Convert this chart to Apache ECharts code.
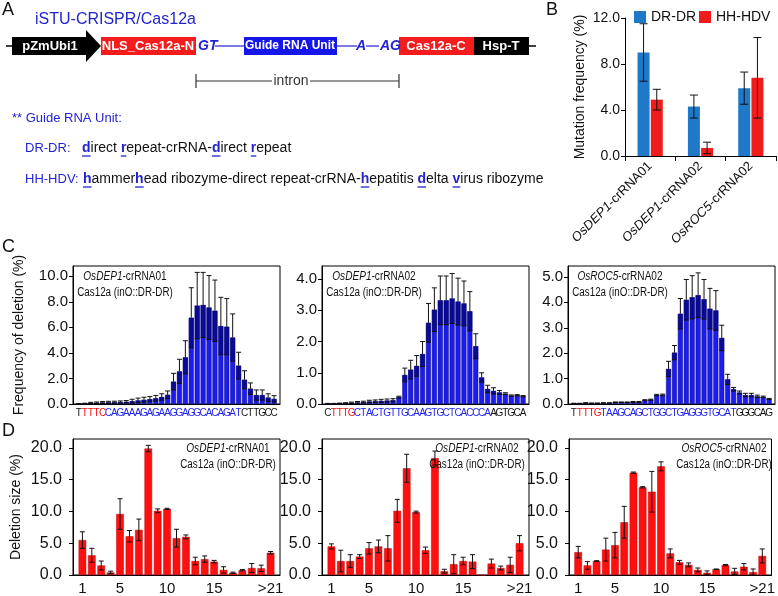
<!DOCTYPE html>
<html><head><meta charset="utf-8">
<script src="https://cdn.jsdelivr.net/npm/echarts@6/dist/echarts.min.js"></script>
<style>html,body{margin:0;padding:0;background:#fff}#c{width:778px;height:596px}</style>
</head><body><div id="c"></div>
<script>
// ---------------- DATA ----------------
// Panel B
const bCategories = ['OsDEP1-crRNA01', 'OsDEP1-crRNA02', 'OsROC5-crRNA02'];
const bSeriesNames = ['DR-DR', 'HH-HDV'];
const bDrDr = [9.0, 4.3, 5.9];
const bDrDrErr = [2.5, 1.0, 1.4];
const bHhHdv = [4.9, 0.7, 6.8];
const bHhHdvErr = [0.9, 0.5, 3.5];
const bTicks = [0, 4, 8, 12];

// Panel C (deletion frequency per position)
const c1Seq = 'TTTTCCAGAAAGAGAAGGAGGCACAGATCTTGCC'.split('');
const c2Seq = 'CTTTGCTACTGTTGCAAGTGCTCACCCAAGTGCA'.split('');
const c3Seq = 'TTTTGTAAGCAGCTGGCTGAGGGTGCATGGGCAG'.split('');
const c1Vals = [0.02,0.03,0.08,0.10,0.12,0.13,0.14,0.15,0.17,0.22,0.28,0.33,0.38,0.45,0.55,0.72,1.75,2.55,3.65,6.75,7.70,7.75,7.55,7.30,6.10,6.05,5.20,3.00,1.90,1.20,0.70,0.70,0.50,0.40];
const c1Err  = [0.02,0.03,0.05,0.06,0.07,0.08,0.08,0.09,0.10,0.15,0.18,0.20,0.20,0.22,0.25,0.30,0.65,0.95,1.30,2.35,2.60,2.55,2.50,2.40,2.25,2.20,1.85,1.05,0.70,0.45,0.40,0.40,0.30,0.25];
const c2Vals = [0.01,0.01,0.02,0.03,0.04,0.05,0.06,0.08,0.09,0.10,0.11,0.12,0.22,0.93,1.10,1.22,1.60,2.60,3.02,3.32,3.32,3.38,3.28,3.22,2.97,1.85,0.85,0.48,0.42,0.37,0.33,0.27,0.28,0.25];
const c2Err  = [0.01,0.01,0.01,0.01,0.02,0.03,0.03,0.04,0.04,0.05,0.05,0.05,0.03,0.22,0.30,0.33,0.40,0.62,0.70,0.78,0.78,0.80,0.75,0.72,0.63,0.40,0.15,0.12,0.10,0.06,0.03,0.02,0.02,0.02];
const c3Vals = [0.02,0.02,0.04,0.03,0.03,0.04,0.04,0.07,0.07,0.07,0.08,0.08,0.15,0.17,0.35,0.36,1.38,2.02,3.55,4.10,4.20,4.28,4.12,3.75,3.68,2.60,0.97,0.58,0.45,0.35,0.35,0.30,0.28,0.20];
const c3Err  = [0.01,0.01,0.01,0.01,0.01,0.01,0.01,0.01,0.01,0.01,0.02,0.02,0.02,0.02,0.03,0.03,0.30,0.28,0.60,0.80,0.85,0.88,0.78,0.80,0.78,0.50,0.20,0.07,0.06,0.07,0.07,0.05,0.03,0.02];
const c1Ticks = [0, 2, 4, 6, 8, 10];
const c2Ticks = [0, 1, 2, 3, 4];
const c3Ticks = [0, 1, 2, 3, 4, 5];
// sequence colour segments: [black, red (PAM), blue (protospacer), black]
const cSegments = [1, 4, 23, 6];

// Panel D (deletion size)
const dCategories = ['1','2','3','4','5','6','7','8','9','10','11','12','13','14','15','16','17','18','19','20','>21'];
const dShownLabels = ['1', '5', '10', '15', '>21'];
const d1Vals = [5.5,3.1,1.5,0.4,9.6,6.1,7.1,19.9,10.1,10.4,5.8,6.0,2.2,2.5,2.1,0.8,0.35,0.75,1.1,1.05,3.5];
const d1Err  = [1.3,1.1,0.7,0.2,2.4,0.9,1.7,0.5,0.3,0.1,1.4,0.3,0.6,0.5,0.2,0.5,0.1,0.1,0.7,0.5,0.2];
const d2Vals = [4.5,2.2,2.2,2.9,4.2,4.5,4.2,10.1,16.8,9.9,3.9,18.4,0.6,1.7,2.2,2.1,0,1.8,1.1,1.6,5.0];
const d2Err  = [0.4,1.7,1.0,0.3,0.9,1.0,2.0,1.8,2.2,0.15,0.5,1.1,0.3,1.5,0.6,1.1,0,0.7,0.3,1.2,1.2];
const d3Vals = [3.6,1.5,2.2,4.0,4.7,8.3,16.1,13.8,13.1,17.1,3.4,2.0,1.6,0.8,0.35,0.9,1.55,0.55,1.3,0.45,3.0];
const d3Err  = [0.9,0.6,0.05,1.8,2.0,2.5,0.1,0.1,3.2,0.7,0.7,0.3,0.3,0.3,0.3,0.05,0.1,0.5,0.5,0.5,1.1];
const dTicks = [0, 5, 10, 15, 20];

const panelTitles = [
  ['OsDEP1', '-crRNA01'], ['OsDEP1', '-crRNA02'], ['OsROC5', '-crRNA02']
];
const panelSubtitle = 'Cas12a (inO::DR-DR)';

// ---------------- STYLE ----------------
const FONT = '"Liberation Sans", Arial, sans-serif';
const BLUE_B = '#1f78c8', RED_B = '#f01c1c';
const BLUE_C = '#1c1cf2', RED_D = '#ff1010';
const TXT_BLUE = '#2323d0';

const chart = echarts.init(document.getElementById('c'));

const cGridLefts = [73, 322, 568];
const dGridLefts = [73, 322, 569];
const PW = 207, PH = 138;

const grids = [{left: 625, top: 18, width: 151, height: 138}];
cGridLefts.forEach(l => grids.push({left: l, top: 266, width: PW, height: PH, show: true, borderColor: '#000', borderWidth: 1}));
dGridLefts.forEach(l => grids.push({left: l, top: 439, width: PW, height: PH, show: true, borderColor: '#000', borderWidth: 1}));

function segKey(i) {
  let acc = 0; const keys = ['k', 'r', 'b', 'k'];
  for (let s = 0; s < cSegments.length; s++) { acc += cSegments[s]; if (i < acc) return keys[s]; }
  return 'k';
}
const seqRich = {
  k: {color: '#111', fontSize: 10, fontFamily: FONT},
  r: {color: '#ee1111', fontSize: 10, fontFamily: FONT},
  b: {color: '#2222ee', fontSize: 10, fontFamily: FONT}
};
const axisBlack = {show: true, lineStyle: {color: '#000', width: 1}};

const xAxes = [{
  type: 'category', gridIndex: 0, data: bCategories,
  axisLine: axisBlack, axisTick: {show: true, length: 5, lineStyle: {color: '#000'}},
  axisLabel: {
    interval: 0, rotate: 45, margin: 8, color: '#111',
    formatter: v => { const p = v.indexOf('-'); return '{i|' + v.slice(0, p) + '}{n|' + v.slice(p) + '}'; },
    rich: {i: {fontStyle: 'italic', fontSize: 13, fontFamily: FONT, color: '#111'}, n: {fontSize: 13, fontFamily: FONT, color: '#111'}}
  }
}];
const cSeqs = [c1Seq, c2Seq, c3Seq];
// padded category axis: one empty slot at each end so the bars sit inset from the frame
cSeqs.forEach((seq, k) => xAxes.push({
  type: 'category', gridIndex: k + 1, boundaryGap: false, data: [''].concat(seq, ['']),
  axisLine: axisBlack, axisTick: {show: false},
  axisLabel: {
    interval: 0, margin: 4, fontSize: 10,
    formatter: (v, idx) => v ? '{' + segKey(idx - 1) + '|' + v + '}' : '',
    rich: seqRich
  }
}));
[0, 1, 2].forEach(k => xAxes.push({
  type: 'value', gridIndex: k + 4, min: 0, max: dCategories.length + 1,
  axisLine: axisBlack, axisTick: {show: false}, splitLine: {show: false},
  axisLabel: {
    customValues: dShownLabels.map(s => dCategories.indexOf(s) + 1), margin: 6,
    showMinLabel: true, showMaxLabel: true,
    fontSize: 15, color: '#111', formatter: v => dCategories[Math.round(v) - 1] || ''
  }
}));

function yAx(grid, max, ticks, fs, margin, name, gap) {
  return {
    type: 'value', gridIndex: grid, min: 0, max: max,
    axisLine: axisBlack, splitLine: {show: false},
    axisTick: {show: true, length: 4, customValues: ticks, lineStyle: {color: '#000'}},
    axisLabel: {customValues: ticks, fontSize: fs, color: '#111', margin: margin, formatter: v => v.toFixed(1)},
    name: name || '', nameLocation: 'middle', nameGap: gap || 0,
    nameTextStyle: {fontSize: 14, color: '#111', fontFamily: FONT}
  };
}
const yAxes = [
  yAx(0, 12, bTicks, 14, 5, 'Mutation frequency (%)', 38),
  yAx(1, 10.8, c1Ticks, 15, 5, 'Frequency of deletion (%)', 47),
  yAx(2, 4.42, c2Ticks, 15, 5),
  yAx(3, 5.43, c3Ticks, 15, 5),
  yAx(4, 21.4, dTicks, 16, 11, 'Deletion size (%)', 50),
  yAx(5, 21.4, dTicks, 16, 11),
  yAx(6, 21.4, dTicks, 16, 11)
];

function errRender(opts) {
  return function (params, api) {
    const x = api.value(0), m = api.value(1), e = api.value(2);
    if (!e) return null;
    const c = api.coord([x, m]);
    const cx = c[0] + (opts.offset || 0);
    const yt = api.coord([x, m + e])[1];
    const yb = api.coord([x, Math.max(0, m - e)])[1];
    const cap = opts.cap, st = {stroke: opts.color || '#111', lineWidth: 1};
    const ch = [];
    if (opts.dark) {
      ch.push({type: 'rect', shape: {x: cx - opts.barW / 2, y: c[1], width: opts.barW, height: yb - c[1]}, style: {fill: 'rgba(0,0,95,0.62)'}});
      ch.push({type: 'line', shape: {x1: cx, y1: yt, x2: cx, y2: c[1]}, style: st});
    } else {
      ch.push({type: 'line', shape: {x1: cx, y1: yt, x2: cx, y2: yb}, style: st});
    }
    ch.push({type: 'line', shape: {x1: cx - cap, y1: yt, x2: cx + cap, y2: yt}, style: st});
    ch.push({type: 'line', shape: {x1: cx - cap, y1: yb, x2: cx + cap, y2: yb}, style: st});
    return {type: 'group', children: ch};
  };
}

const series = [];
// B
series.push({type: 'bar', name: bSeriesNames[0], xAxisIndex: 0, yAxisIndex: 0, data: bDrDr, barWidth: 12, barGap: '10%', itemStyle: {color: BLUE_B}});
series.push({type: 'bar', name: bSeriesNames[1], xAxisIndex: 0, yAxisIndex: 0, data: bHhHdv, barWidth: 12, barGap: '10%', itemStyle: {color: RED_B}});
series.push({type: 'custom', xAxisIndex: 0, yAxisIndex: 0, encode: {x: 0, y: 1}, z: 5,
  data: bCategories.map((_, i) => [i, bDrDr[i], bDrDrErr[i]]), renderItem: errRender({offset: -6.6, cap: 4})});
series.push({type: 'custom', xAxisIndex: 0, yAxisIndex: 0, encode: {x: 0, y: 1}, z: 5,
  data: bCategories.map((_, i) => [i, bHhHdv[i], bHhHdvErr[i]]), renderItem: errRender({offset: 6.6, cap: 4})});
// C
[[c1Vals, c1Err], [c2Vals, c2Err], [c3Vals, c3Err]].forEach((p, k) => {
  series.push({type: 'bar', xAxisIndex: k + 1, yAxisIndex: k + 1, barWidth: 5,
    data: p[0].map((v, i) => [i + 1, v]),
    itemStyle: {color: BLUE_C, borderColor: '#000070', borderWidth: 0.5}});
  series.push({type: 'custom', xAxisIndex: k + 1, yAxisIndex: k + 1, encode: {x: 0, y: 1}, z: 5,
    data: p[0].map((v, i) => [i + 1, v, p[1][i]]), renderItem: errRender({dark: true, barW: 5, cap: 2.5})});
});
// D
[[d1Vals, d1Err], [d2Vals, d2Err], [d3Vals, d3Err]].forEach((p, k) => {
  series.push({type: 'bar', xAxisIndex: k + 4, yAxisIndex: k + 4, barWidth: 7.6,
    data: p[0].map((v, i) => [i + 1, v]),
    itemStyle: {color: RED_D, borderColor: '#c00000', borderWidth: 0.5}});
  series.push({type: 'custom', xAxisIndex: k + 4, yAxisIndex: k + 4, encode: {x: 0, y: 1}, z: 5,
    data: p[0].map((v, i) => [i + 1, v, p[1][i]]), renderItem: errRender({cap: 2.5})});
});

// ---------------- GRAPHICS (panel A diagram, labels) ----------------
const G = [];
function txt(x, y, text, o) {
  o = o || {};
  const el = {type: 'text', x: x, y: y, z: 10, style: Object.assign({
    text: text, fill: o.fill || '#111', fontSize: o.fontSize || 14, fontFamily: o.fontFamily || FONT,
    fontWeight: o.fontWeight || 'normal', fontStyle: o.fontStyle || 'normal',
    align: o.align || 'left', textAlign: o.align || 'left', verticalAlign: 'middle', textVerticalAlign: 'middle'
  }, o.rich ? {rich: o.rich} : {})};
  if (o.scaleX) el.scaleX = o.scaleX;
  G.push(el);
}
function ln(x1, y1, x2, y2, color, w) {
  G.push({type: 'line', z: 9, shape: {x1, y1, x2, y2}, style: {stroke: color, lineWidth: w || 1}});
}
function rc(x, y, w, h, color) {
  G.push({type: 'rect', z: 9, shape: {x, y, width: w, height: h}, style: {fill: color}});
}
// panel letters
txt(2, 10, 'A', {fontSize: 18});
txt(546, 10, 'B', {fontSize: 18});
txt(2, 247, 'C', {fontSize: 18});
txt(2, 431, 'D', {fontSize: 18});

txt(35, 20, 'iSTU-CRISPR/Cas12a', {fontSize: 16, fill: TXT_BLUE});

const RY = 46;
ln(6, RY, 14, RY, '#000', 1.5);
G.push({type: 'polygon', z: 9, shape: {points: [[12, RY - 9], [86, RY - 9], [86, RY - 16], [101, RY], [86, RY + 16], [86, RY + 9], [12, RY + 9]]}, style: {fill: '#000'}});
txt(50, RY, 'pZmUbi1', {fill: '#fff', fontWeight: 'bold', fontSize: 13, align: 'center'});
rc(101, RY - 9, 95, 18, '#f41c1c');
txt(148, RY, 'NLS_Cas12a-N', {fill: '#fff', fontWeight: 'bold', fontSize: 13, align: 'center'});
txt(198, RY, 'GT', {fill: TXT_BLUE, fontWeight: 'bold', fontStyle: 'italic', fontSize: 14});
ln(215, RY, 244, RY, TXT_BLUE, 1.2);
rc(244, RY - 9, 93, 18, '#1616e8');
txt(290, RY, 'Guide RNA Unit', {fill: '#fff', fontWeight: 'bold', fontSize: 12, align: 'center'});
ln(337, RY, 357, RY, TXT_BLUE, 1.2);
txt(361, RY, 'A', {fill: TXT_BLUE, fontWeight: 'bold', fontStyle: 'italic', fontSize: 14, align: 'center'});
ln(366, RY, 379, RY, TXT_BLUE, 1.2);
txt(380, RY, 'AG', {fill: TXT_BLUE, fontWeight: 'bold', fontStyle: 'italic', fontSize: 14});
rc(399, RY - 9, 75, 18, '#f41c1c');
txt(436, RY, 'Cas12a-C', {fill: '#fff', fontWeight: 'bold', fontSize: 13, align: 'center'});
rc(474, RY - 9, 55, 18, '#000');
txt(501, RY, 'Hsp-T', {fill: '#fff', fontWeight: 'bold', fontSize: 13, align: 'center'});
ln(529, RY, 536, RY, '#000', 1.5);
// intron bracket
const IY = 81;
ln(196, IY, 272, IY, '#333', 1.2);
ln(310, IY, 399, IY, '#333', 1.2);
ln(196, IY - 7, 196, IY + 7, '#333', 1.2);
ln(399, IY - 7, 399, IY + 7, '#333', 1.2);
txt(291, IY, 'intron', {fontSize: 14, fill: '#333', align: 'center'});

txt(12, 118, '** Guide RNA Unit:', {fontSize: 13, fill: TXT_BLUE});
txt(25, 148, 'DR-DR:', {fontSize: 13, fill: TXT_BLUE});
txt(25, 179, 'HH-HDV:', {fontSize: 13, fill: TXT_BLUE});

const meas = document.createElement('canvas').getContext('2d');
function richLine(x0, y, segs) {
  let x = x0;
  segs.forEach(s => {
    const bold = s[1];
    meas.font = (bold ? 'bold ' : '') + '14px "Liberation Sans", Arial, sans-serif';
    const w = meas.measureText(s[0]).width;
    txt(x, y, s[0], {fontSize: 14, fontWeight: bold ? 'bold' : 'normal', fill: bold ? TXT_BLUE : '#111'});
    if (bold) ln(x, y + 8, x + w, y + 8, TXT_BLUE, 1.3);
    x += w;
  });
}
richLine(82, 148, [['d', 1], ['irect ', 0], ['r', 1], ['epeat-crRNA-', 0], ['d', 1], ['irect ', 0], ['r', 1], ['epeat', 0]]);
richLine(83, 179, [['h', 1], ['ammer', 0], ['h', 1], ['ead ribozyme-direct repeat-crRNA-', 0], ['h', 1], ['epatitis ', 0], ['d', 1], ['elta ', 0], ['v', 1], ['irus ribozyme', 0]]);

// inner panel labels (condensed)
const titleRich = {i: {fontStyle: 'italic', fontSize: 12, fontFamily: FONT, fill: '#111'}, n: {fontSize: 12, fontFamily: FONT, fill: '#111'}};
cGridLefts.forEach((l, k) => {
  txt(l + 52, 277, '{i|' + panelTitles[k][0] + '}{n|' + panelTitles[k][1] + '}', {align: 'center', rich: titleRich, fontSize: 12, scaleX: 0.84});
  txt(l + 52, 293, panelSubtitle, {align: 'center', fontSize: 12, scaleX: 0.82});
});
dGridLefts.forEach((l, k) => {
  txt(l + PW - 52, 449, '{i|' + panelTitles[k][0] + '}{n|' + panelTitles[k][1] + '}', {align: 'center', rich: titleRich, fontSize: 12, scaleX: 0.84});
  txt(l + PW - 52, 465, panelSubtitle, {align: 'center', fontSize: 12, scaleX: 0.82});
});

chart.setOption({
  animation: false,
  textStyle: {fontFamily: FONT},
  legend: [
    {data: [bSeriesNames[0]], left: 634, top: 10, padding: 0, itemWidth: 12, itemHeight: 12, itemGap: 5, icon: 'rect', textStyle: {fontSize: 14, color: '#111'}},
    {data: [bSeriesNames[1]], left: 699, top: 10, padding: 0, itemWidth: 12, itemHeight: 12, itemGap: 5, icon: 'rect', textStyle: {fontSize: 14, color: '#111'}}
  ],
  grid: grids, xAxis: xAxes, yAxis: yAxes, series: series, graphic: {elements: G}
});
</script></body></html>
